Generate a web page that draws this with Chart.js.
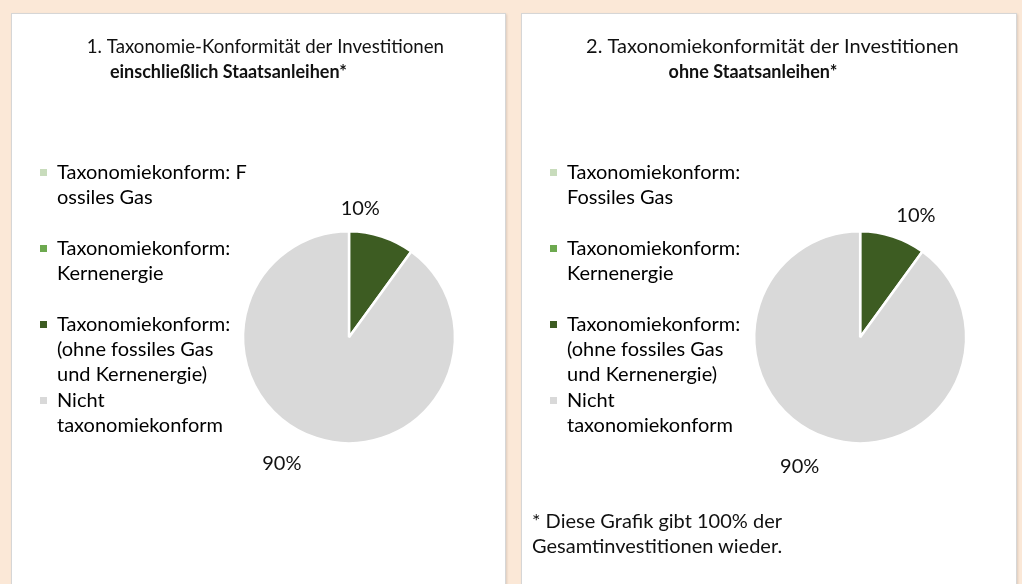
<!DOCTYPE html>
<html>
<head>
<meta charset="utf-8">
<script src="https://cdn.jsdelivr.net/npm/chart.js@4.4.1/dist/chart.umd.min.js"></script>
<style>
  html, body { margin: 0; padding: 0; }
  body { width: 1022px; height: 584px; background: #fbe8d7; position: relative; overflow: hidden; font-family: Lato, sans-serif; }
  .panel { position: absolute; top: 13px; height: 600px; background: #ffffff; border: 1px solid #d6d6d6; box-shadow: 1px 1px 2px rgba(0,0,0,0.12); box-sizing: border-box; }
  #p1 { left: 11px; width: 495px; }
  #p2 { left: 521px; width: 496px; }
  canvas { position: absolute; }
  #c1 { left: 11px; top: 13px; }
  #c2 { left: 521px; top: 13px; }
  #note { position: absolute; left: 532px; top: 508px; font-family: Lato, sans-serif; font-size: 20px; line-height: 25px; color: #111; }
</style>
</head>
<body>
<div class="panel" id="p1"></div>
<div class="panel" id="p2"></div>
<canvas id="c1" width="494" height="571"></canvas>
<canvas id="c2" width="495" height="571"></canvas>
<div id="note">* Diese Grafik gibt 100% der<br>Gesamtinvestitionen wieder.</div>
<script>
// ---- data ----
const titles1 = ['1. Taxonomie-Konformität der Investitionen', 'einschließlich Staatsanleihen*'];
const titles2 = ['2. Taxonomiekonformität der Investitionen', 'ohne Staatsanleihen*'];
const categories1 = [
  ['Taxonomiekonform: F', 'ossiles Gas'],
  ['Taxonomiekonform:', 'Kernenergie'],
  ['Taxonomiekonform:', '(ohne fossiles Gas', 'und Kernenergie)'],
  ['Nicht', 'taxonomiekonform']
];
const categories2 = [
  ['Taxonomiekonform:', 'Fossiles Gas'],
  ['Taxonomiekonform:', 'Kernenergie'],
  ['Taxonomiekonform:', '(ohne fossiles Gas', 'und Kernenergie)'],
  ['Nicht', 'taxonomiekonform']
];
const values1 = [0, 0, 10, 90];
const values2 = [0, 0, 10, 90];
const sliceColors = ['#c8dcbc', '#6da94f', '#3d5c22', '#d9d9d9'];

const FONT = 'Lato, sans-serif';
const NB = n => '\u00a0'.repeat(n);

const sliceLabelPlugin = {
  id: 'sliceLabels',
  afterDatasetsDraw(chart, args, opts) {
    const ctx = chart.ctx;
    const meta = chart.getDatasetMeta(0);
    const data = chart.data.datasets[0].data;
    const total = data.reduce((a, b) => a + b, 0);
    ctx.save();
    ctx.font = '20px ' + FONT;
    ctx.fillStyle = '#111';
    ctx.textAlign = 'center';
    ctx.textBaseline = 'middle';
    meta.data.forEach((arc, i) => {
      if (!data[i]) return;
      const p = arc.getProps(['x', 'y', 'startAngle', 'endAngle', 'outerRadius'], true);
      const mid = (p.startAngle + p.endAngle) / 2 + (opts.delta[i] || 0) * Math.PI / 180;
      const r = p.outerRadius * (opts.dist[i] || 1.25);
      ctx.fillText(Math.round(data[i] / total * 100) + '%', p.x + Math.cos(mid) * r, p.y + Math.sin(mid) * r);
    });
    ctx.restore();
  }
};

function makeChart(id, titles, categories, values, cfg) {
  const padded = categories.map(c => c.length < 3 ? c.concat(['']) : c);
  return new Chart(document.getElementById(id), {
    type: 'pie',
    data: {
      labels: categories.map(c => c.join(' ')),
      datasets: [{
        data: values,
        backgroundColor: sliceColors,
        borderColor: '#ffffff',
        borderWidth: 2.5,
        radius: 106
      }]
    },
    options: {
      responsive: false,
      animation: false,
      layout: { padding: { left: 28, right: cfg.padRight, top: 0, bottom: 71 } },
      plugins: {
        tooltip: { enabled: false },
        title: {
          display: true,
          text: NB(cfg.titleLead) + titles[0],
          color: '#111',
          font: { family: FONT, size: 20, weight: 'normal', lineHeight: 1.25 },
          padding: { top: 21.5, bottom: 0 }
        },
        subtitle: {
          display: true,
          text: titles[1] + NB(cfg.subTrail),
          color: '#111',
          font: { family: FONT, size: 18, weight: 'bold', lineHeight: 25 / 18 },
          padding: { top: 0, bottom: 77 }
        },
        legend: {
          display: true,
          position: 'left',
          align: 'start',
          fullSize: false,
          maxWidth: 215,
          labels: {
            boxWidth: 7,
            boxHeight: 7,
            padding: 1,
            color: '#111',
            font: { family: FONT, size: 20, lineHeight: 25 / 20 },
            generateLabels: () => padded.map((txt, i) => ({
              text: txt,
              fillStyle: sliceColors[i],
              strokeStyle: sliceColors[i],
              lineWidth: 0,
              hidden: false,
              index: i
            }))
          }
        },
        sliceLabels: cfg.labels
      }
    },
    plugins: [sliceLabelPlugin]
  });
}

makeChart('c1', titles1, categories1, values1, {
  padRight: 61, titleLead: 10, subTrail: 6,
  labels: { delta: [0, 0, -13, 10], dist: [1, 1, 1.22, 1.35] }
});
makeChart('c2', titles2, categories2, values2, {
  padRight: 46, titleLead: 5, subTrail: 3,
  labels: { delta: [0, 0, 6.7, 7], dist: [1, 1, 1.26, 1.35] }
});
</script>
</body>
</html>
